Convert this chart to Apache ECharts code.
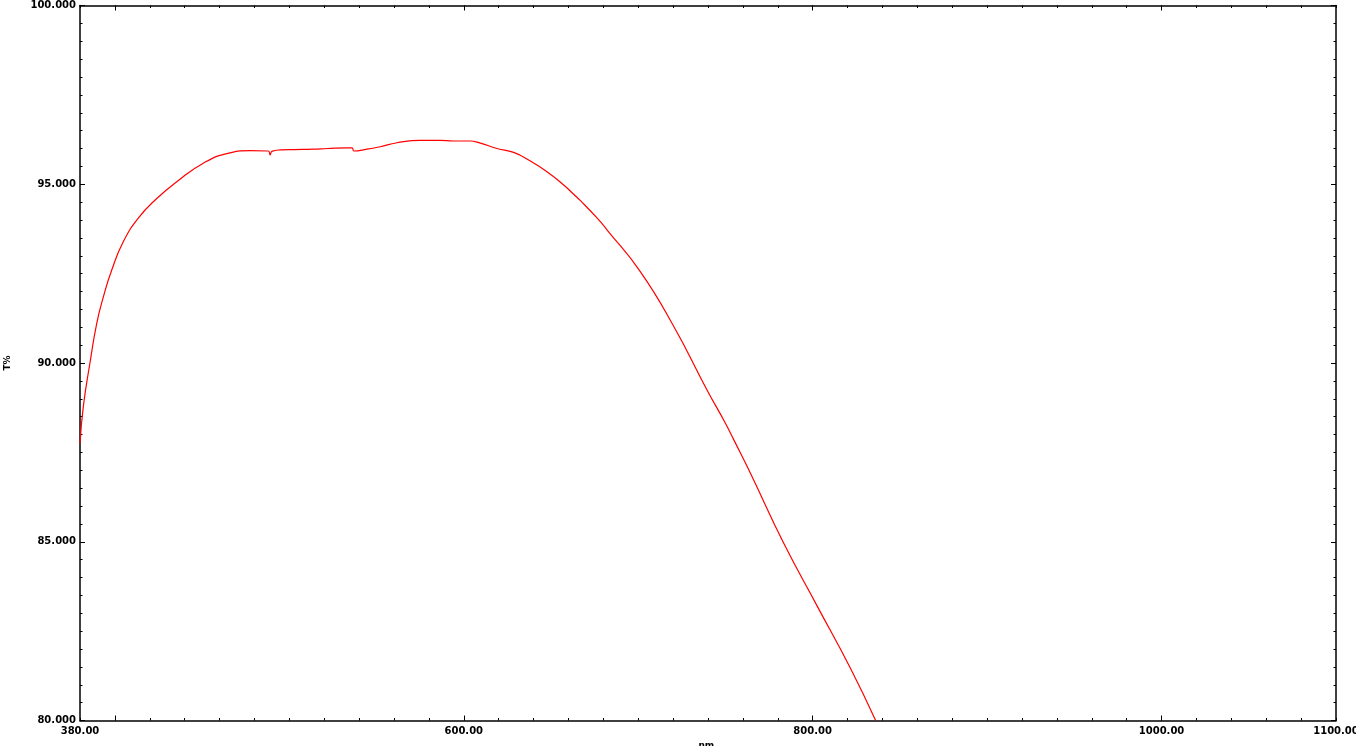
<!DOCTYPE html>
<html>
<head>
<meta charset="utf-8">
<script src="https://cdn.jsdelivr.net/npm/echarts@6/dist/echarts.min.js"></script>
<style>
html,body{margin:0;padding:0;background:#fff;}
#chart{width:1356px;height:746px;}
</style>
</head>
<body>
<div id="chart"></div>
<script>
// Wavelength (nm) and transmittance (T%)
const wavelengths = [380, 381.9, 385.7, 389.6, 393.4, 398.2, 404.8, 413.4, 424, 435.5,
  450.7, 466, 477.5, 488, 489, 490, 494.7, 503, 513.8, 522,
  533, 536, 537, 544.5, 552, 561.7, 575, 586.5, 594, 603.7,
  609.5, 619, 628.6, 638.2, 647.7, 657.3, 663, 666.9, 676.5, 682.2,
  701.3, 720.4, 739.5, 749.6, 754.8, 764.4, 783.5, 802.6, 821.8, 836.1];
const transmittance = [87.75, 88.78, 90.0, 91.11, 91.85, 92.6, 93.39, 94.05, 94.6, 95.07,
  95.59, 95.88, 95.94, 95.93, 95.82, 95.92, 95.96, 95.97, 95.98, 96.0,
  96.02, 96.02, 95.93, 95.98, 96.05, 96.16, 96.23, 96.23, 96.21, 96.21,
  96.15, 96.0, 95.89, 95.65, 95.35, 94.98, 94.72, 94.54, 94.05, 93.72,
  92.55, 91.02, 89.24, 88.35, 87.85, 86.91, 84.95, 83.2, 81.45, 80.0];
const xLabelValues = [380, 600, 800, 1000, 1100];
const xMajorTicks = [400, 600, 800, 1000];
const yLabelValues = [80, 85, 90, 95, 100];

const X_MIN = 380, X_MAX = 1100, Y_MIN = 80, Y_MAX = 100;
const labelFont = {fontFamily: 'DejaVu Sans', fontWeight: 'bold', fontSize: 10, color: '#000'};
const black = {color: '#000', width: 1};

function xAxisPair(pos, withLabels) {
  return [
    {
      type: 'value', position: pos, min: X_MIN, max: X_MAX, interval: 20,
      axisLine: {show: true, onZero: false, lineStyle: {color: '#000', width: 1.5}},
      axisTick: {show: true, inside: true, length: 2.5, lineStyle: black},
      axisLabel: withLabels ? Object.assign({show: true, customValues: xLabelValues, margin: 6,
        formatter: v => Number(v).toFixed(2)}, labelFont) : {show: false},
      splitLine: {show: false},
      name: withLabels ? 'nm.' : '', nameLocation: 'middle', nameGap: 18,
      nameTextStyle: {fontFamily: 'DejaVu Sans', fontWeight: 'bold', fontSize: 9, color: '#000'}
    },
    {
      type: 'value', position: pos, min: X_MIN, max: X_MAX,
      axisLine: {show: false, onZero: false},
      axisTick: {show: true, inside: true, length: 5, customValues: xMajorTicks, lineStyle: black},
      axisLabel: {show: false}, splitLine: {show: false}
    }
  ];
}
function yAxisOne(pos, withLabels) {
  return {
    type: 'value', position: pos, min: Y_MIN, max: Y_MAX, interval: 5,
    axisLine: {show: true, onZero: false, lineStyle: {color: '#000', width: 1.5}},
    axisTick: {show: true, inside: true, length: 5, lineStyle: black},
    minorTick: {show: true, splitNumber: 10, length: 2.5, lineStyle: black},
    axisLabel: withLabels ? Object.assign({show: true, customValues: yLabelValues, margin: 4,
      formatter: v => Number(v).toFixed(3)}, labelFont) : {show: false},
    splitLine: {show: false}, minorSplitLine: {show: false},
    name: withLabels ? 'T%' : '', nameLocation: 'middle', nameGap: 68, nameRotate: 90,
    nameTextStyle: {fontFamily: 'DejaVu Sans', fontWeight: 'bold', fontSize: 9, color: '#000'}
  };
}

const chart = echarts.init(document.getElementById('chart'), null, {renderer: 'canvas'});
chart.setOption({
  animation: false,
  backgroundColor: '#fff',
  grid: {left: 80, right: 20, top: 5.5, bottom: 25.5, containLabel: false, outerBoundsMode: 'none'},
  xAxis: [].concat(xAxisPair('bottom', true), xAxisPair('top', false)),
  yAxis: [yAxisOne('left', true), yAxisOne('right', false)],
  series: [{
    type: 'line', xAxisIndex: 0, yAxisIndex: 0,
    data: wavelengths.map((w, i) => [w, transmittance[i]]),
    showSymbol: false, symbol: 'none', smooth: 0.5, clip: true,
    lineStyle: {color: '#ff0000', width: 1.2}
  }]
});
</script>
</body>
</html>
